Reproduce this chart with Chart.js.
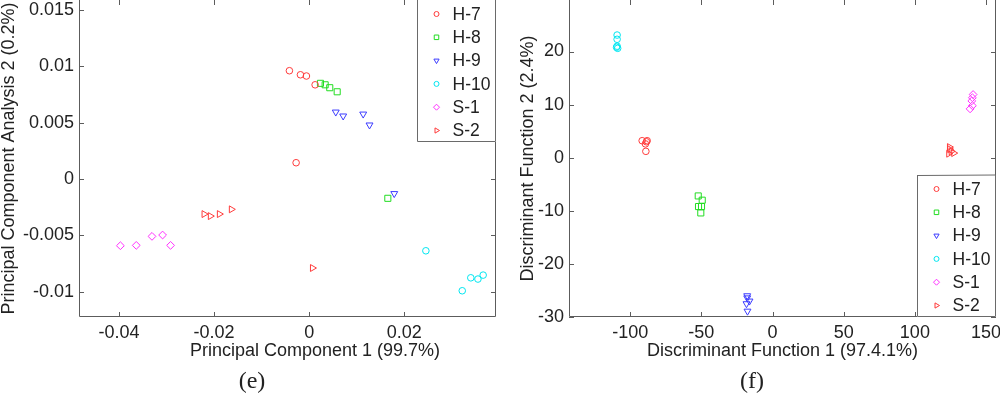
<!DOCTYPE html>
<html>
<head>
<meta charset="utf-8">
<script src="https://cdn.jsdelivr.net/npm/chart.js@4.4.1/dist/chart.umd.min.js"></script>
<style>
  html, body { margin: 0; padding: 0; background: #fff; }
  #wrap { position: relative; width: 1000px; height: 394px; }
  .panel { position: absolute; top: 0; width: 500px; height: 394px; }
</style>
</head>
<body>
<div id="wrap">
  <div class="panel" style="left:0"><canvas id="pcaChart" width="500" height="394"></canvas></div>
  <div class="panel" style="left:500px"><canvas id="daChart" width="500" height="394"></canvas></div>
</div>
<script>
// groups (same order in both panels)
const groups = ['H-7', 'H-8', 'H-9', 'H-10', 'S-1', 'S-2'];

// (e) principal component scores, one inner array per group
const pc1 = [
  [-0.00415, -0.00183, -0.00057, 0.00126, -0.00274],
  [0.00238, 0.00337, 0.00434, 0.0059, 0.01655],
  [0.0056, 0.00716, 0.01137, 0.0127, 0.0179],
  [0.02455, 0.0322, 0.034, 0.0355, 0.0366],
  [-0.0397, -0.03636, -0.03305, -0.03082, -0.02914],
  [-0.0221, -0.02078, -0.01888, -0.01636, 0.0007]
];
const pc2 = [
  [0.00962, 0.00926, 0.00915, 0.00837, 0.00145],
  [0.0085, 0.00837, 0.00811, 0.00775, -0.00171],
  [0.00595, 0.0056, 0.00577, 0.0048, -0.00129],
  [-0.00637, -0.00992, -0.00877, -0.00888, -0.00853],
  [-0.00592, -0.00589, -0.00509, -0.00497, -0.00589],
  [-0.00311, -0.00329, -0.00311, -0.00269, -0.0079]
];

// (f) discriminant function scores
const df1 = [
  [-91.6, -88.1, -89.3, -89.0, -88.6],
  [-52.2, -49.4, -52.0, -49.9, -50.4],
  [-17.8, -17.8, -16.2, -18.3, -17.6],
  [-109.2, -109.2, -109.2, -108.8, -109.6],
  [140.9, 140.4, 140.0, 138.8, 140.4],
  [124.3, 125.5, 123.8, 127.3, 124.5]
];
const df2 = [
  [3.2, 3.2, 2.6, 1.2, 3.0],
  [-7.2, -8.0, -9.2, -9.2, -10.4],
  [-26.0, -26.4, -27.0, -27.5, -28.9],
  [23.1, 22.3, 21.0, 20.6, 20.8],
  [11.9, 11.3, 10.7, 9.2, 9.8],
  [2.0, 1.2, 0.75, 0.87, 1.6]
];

// tick labels
const pcaXTicks = [-0.04, -0.02, 0, 0.02];
const pcaYTicks = [-0.01, -0.005, 0, 0.005, 0.01, 0.015];
const daXTicks = [-100, -50, 0, 50, 100, 150];
const daYTicks = [-30, -20, -10, 0, 10, 20];

// marker styles (matlab r, g, b, c, m, r)
const colors = ['#ff3b3b', '#22dd22', '#3c3cff', '#00e6f0', '#ff30ff', '#ff3b3b'];
const markers = ['circle', 'rect', 'triangle', 'circle', 'rectRot', 'triangle'];
const rotations = [0, 0, 180, 0, 0, 90];
const radii = [3.3, 4.3, 4.0, 3.3, 3.9, 4.0];
const legendRadii = [2.5, 3.2, 3.0, 2.5, 3.0, 3.0];

const sansFont = '"Liberation Sans", Arial, sans-serif';
const textColor = '#222';
const axisColor = '#5c5c5c';

function makeDatasets(xs, ys) {
  return groups.map((g, i) => ({
    label: g,
    data: xs[i].map((x, j) => ({ x: x, y: ys[i][j] })),
    borderColor: colors[i],
    backgroundColor: 'rgba(0,0,0,0)',
    pointStyle: markers[i],
    pointRotation: rotations[i],
    pointRadius: radii[i],
    pointHoverRadius: radii[i],
    pointBorderWidth: 1
  }));
}

function drawMarker(ctx, i, x, y) {
  ctx.strokeStyle = colors[i];
  ctx.fillStyle = 'rgba(0,0,0,0)';
  ctx.lineWidth = 1;
  Chart.helpers.drawPoint(ctx, {
    pointStyle: markers[i], rotation: rotations[i], radius: legendRadii[i], borderWidth: 1
  }, x, y);
}

// box, inward ticks and the boxed legend
const framePlugin = {
  id: 'frame',
  afterDraw(chart, args, opts) {
    const { ctx, chartArea: a } = chart;
    const sx = chart.scales.x, sy = chart.scales.y;
    ctx.save();
    ctx.strokeStyle = axisColor;
    ctx.lineWidth = 1;
    ctx.beginPath();
    // top edge is cropped off in the original figure
    ctx.moveTo(a.left + 0.5, a.top);
    ctx.lineTo(a.left + 0.5, a.bottom - 0.5);
    ctx.lineTo(a.right - 0.5, a.bottom - 0.5);
    ctx.lineTo(a.right - 0.5, a.top);
    sx.ticks.forEach(t => {
      const px = Math.round(sx.getPixelForValue(t.value)) + 0.5;
      ctx.moveTo(px, a.bottom); ctx.lineTo(px, a.bottom - 5);
      ctx.moveTo(px, a.top); ctx.lineTo(px, a.top + 5);
    });
    sy.ticks.forEach(t => {
      const py = Math.round(sy.getPixelForValue(t.value)) + 0.5;
      ctx.moveTo(a.left, py); ctx.lineTo(a.left + 5, py);
      ctx.moveTo(a.right, py); ctx.lineTo(a.right - 5, py);
    });
    ctx.stroke();

    // legend box
    const w = 79, h = 142;
    const left = a.right - w;
    const atBottom = opts.corner === 'bottom';
    const top = atBottom ? a.bottom - h : a.top;
    ctx.fillStyle = '#fff';
    ctx.fillRect(left, top, w, h);
    ctx.strokeStyle = '#6a6a6a';
    ctx.beginPath();
    ctx.moveTo(left + 0.5, top);
    ctx.lineTo(left + 0.5, top + h - 0.5);
    ctx.lineTo(left + w - 0.5, top + h - 0.5);
    ctx.lineTo(left + w - 0.5, top);
    if (atBottom) ctx.lineTo(left + 0.5, top + 0.5);
    ctx.stroke();
    ctx.font = '17.5px ' + sansFont;
    ctx.textBaseline = 'middle';
    ctx.textAlign = 'left';
    groups.forEach((g, i) => {
      const y = top + 14 + i * 23.3;
      drawMarker(ctx, i, left + 19.5, y);
      ctx.fillStyle = textColor;
      ctx.fillText(g, left + 35.5, y + 1);
    });
    ctx.restore();
  }
};

// free text: shifted axis title and panel captions
const notesPlugin = {
  id: 'notes',
  afterDraw(chart, args, opts) {
    const ctx = chart.ctx;
    ctx.save();
    (opts.items || []).forEach(it => {
      ctx.font = it.font;
      ctx.fillStyle = textColor;
      ctx.textAlign = 'center';
      ctx.textBaseline = it.baseline || 'middle';
      ctx.fillText(it.text, it.x, it.y);
    });
    ctx.restore();
  }
};

function buildChart(id, xs, ys, cfg) {
  const tickFont = { family: sansFont, size: 18 };
  return new Chart(document.getElementById(id), {
    type: 'scatter',
    data: { datasets: makeDatasets(xs, ys) },
    plugins: [framePlugin, notesPlugin],
    options: {
      responsive: false,
      animation: false,
      events: [],
      layout: { autoPadding: false, padding: { left: 0, right: 4, top: 0, bottom: 0 } },
      plugins: {
        legend: { display: false },
        tooltip: { enabled: false },
        frame: { corner: cfg.legendCorner },
        notes: { items: cfg.notes }
      },
      scales: {
        x: {
          type: 'linear',
          min: cfg.xMin, max: cfg.xMax,
          grid: { display: false, drawTicks: false },
          border: { display: false },
          afterBuildTicks: s => { s.ticks = cfg.xTicks.map(v => ({ value: v })); },
          afterFit: s => { s.height = 77; s.paddingLeft = 0; s.paddingRight = 0; },
          ticks: { padding: 5, color: textColor, font: tickFont, maxRotation: 0, autoSkip: false,
                   callback: v => String(v) },
          title: {
            display: !!cfg.xTitle, text: cfg.xTitle, color: textColor,
            font: { family: sansFont, size: 18, lineHeight: 1.2 },
            padding: { top: 0, bottom: 32 }
          }
        },
        y: {
          type: 'linear',
          min: cfg.yMin, max: cfg.yMax,
          grid: { display: false, drawTicks: false },
          border: { display: false },
          afterBuildTicks: s => { s.ticks = cfg.yTicks.map(v => ({ value: v })); },
          afterFit: s => { s.width = cfg.yWidth; s.paddingTop = 0; s.paddingBottom = 0; },
          ticks: { padding: 5, color: textColor, font: tickFont, autoSkip: false,
                   callback: v => String(v) },
          title: {
            display: true, text: cfg.yTitle, color: textColor,
            font: { family: sansFont, size: 18, lineHeight: 1 },
            padding: { top: cfg.yTitlePad, bottom: 0 }
          }
        }
      }
    }
  });
}

const captionFont = '24px "Liberation Serif", "Times New Roman", serif';

buildChart('pcaChart', pc1, pc2, {
  xMin: -0.0484, xMax: 0.0393, yMin: -0.01225, yMax: 0.0159,
  xTicks: pcaXTicks, yTicks: pcaYTicks, yWidth: 79, yTitlePad: 0,
  xTitle: '',
  yTitle: 'Principal Component Analysis 2 (0.2%)',
  legendCorner: 'top',
  notes: [
    { text: 'Principal Component 1 (99.7%)', x: 315, y: 351.5, font: '18px ' + sansFont },
    { text: '(e)', x: 252, y: 388, font: captionFont, baseline: 'alphabetic' }
  ]
});

buildChart('daChart', df1, df2, {
  xMin: -143, xMax: 157, yMin: -30, yMax: 29.7,
  xTicks: daXTicks, yTicks: daYTicks, yWidth: 69, yTitlePad: 19,
  xTitle: 'Discriminant Function 1 (97.4.1%)',
  yTitle: 'Discriminant Function 2 (2.4%)',
  legendCorner: 'bottom',
  notes: [
    { text: '(f)', x: 252, y: 388, font: captionFont, baseline: 'alphabetic' }
  ]
});
</script>
</body>
</html>
